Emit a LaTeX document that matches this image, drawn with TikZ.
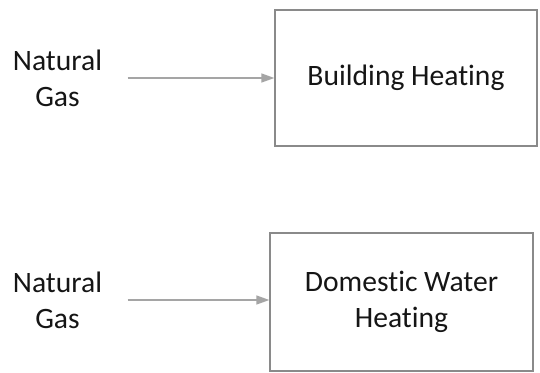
\documentclass[tikz,border=0pt]{standalone}
\usepackage{fontspec}
\setmainfont{Carlito}[Ligatures={NoCommon}]
\usetikzlibrary{arrows.meta}
\definecolor{boxgray}{HTML}{8A8A8A}
\definecolor{arrowgray}{HTML}{A5A5A5}
\definecolor{textgray}{HTML}{151515}
\tikzset{
  usebox/.style={draw=boxgray, line width=1.3pt, minimum width=262pt, minimum height=136pt,
    align=center, text=textgray, font=\fontsize{29.6}{36}\selectfont},
  source/.style={align=center, text=textgray, font=\fontsize{29.6}{36}\selectfont},
  flow/.style={draw=arrowgray, line width=1.4pt, shorten <=22pt,
    -{Triangle[length=13pt,width=9pt]}}
}
\begin{document}
\begin{tikzpicture}[x=1pt,y=-1pt]
\useasboundingbox (0,0) rectangle (540,372);

\node[usebox] (heat1) at (406,78) {Building Heating};
\node[usebox, minimum width=263pt, minimum height=138pt] (heat2) at (401.5,302) {Domestic Water\\Heating};

\node[source] (gas1) at (57.5,78) {Natural\\Gas};
\node[source] (gas2) at (57.5,300) {Natural\\Gas};

\draw[flow] (gas1.east) -- (gas1.east -| heat1.west);
\draw[flow] (gas2.east) -- (gas2.east -| heat2.west);
\end{tikzpicture}
\end{document}
